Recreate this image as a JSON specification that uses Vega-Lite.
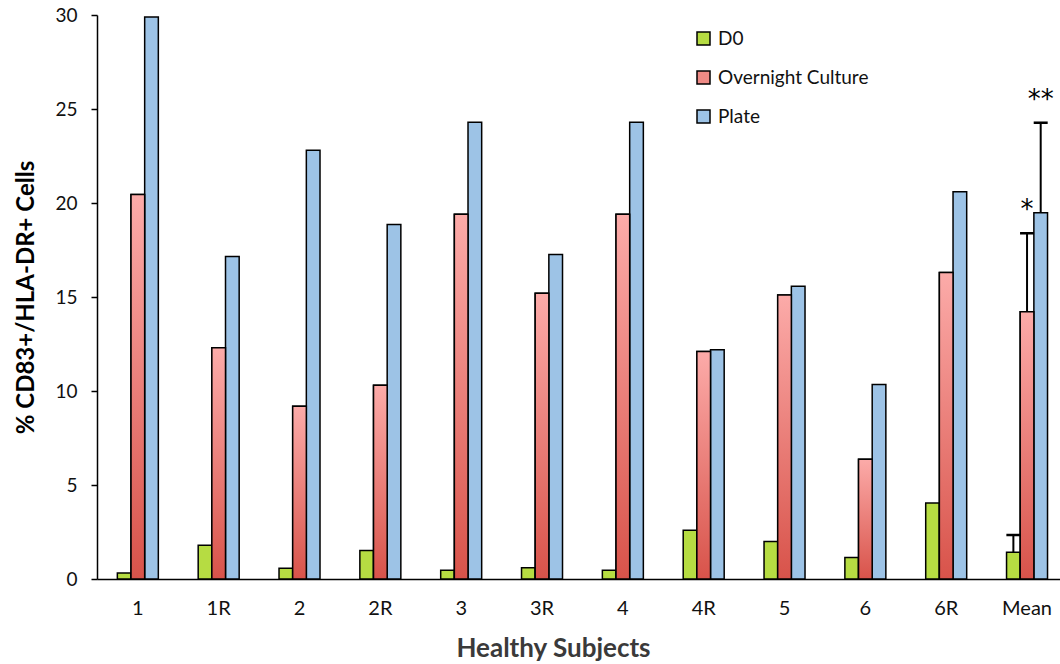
{
  "$schema": "https://vega.github.io/schema/vega-lite/v6.json",
  "width": 963,
  "height": 564,
  "autosize": {"type": "none"},
  "padding": {"left": 97, "top": 15, "right": 0, "bottom": 85},
  "background": "white",
  "config": {
    "font": "Lato",
    "view": {"stroke": null},
    "axis": {"grid": false, "domainColor": "#000000", "domainWidth": 1.5, "tickColor": "#000000", "tickWidth": 1.5, "labelColor": "#111111", "labelFont": "Lato", "titleFont": "Lato"}
  },
  "data": {
    "values": [
      {"subject": "1", "series": "D0", "value": 0.32},
      {"subject": "1", "series": "Overnight Culture", "value": 20.45},
      {"subject": "1", "series": "Plate", "value": 29.9},
      {"subject": "1R", "series": "D0", "value": 1.79},
      {"subject": "1R", "series": "Overnight Culture", "value": 12.3},
      {"subject": "1R", "series": "Plate", "value": 17.15},
      {"subject": "2", "series": "D0", "value": 0.57},
      {"subject": "2", "series": "Overnight Culture", "value": 9.19},
      {"subject": "2", "series": "Plate", "value": 22.8},
      {"subject": "2R", "series": "D0", "value": 1.52},
      {"subject": "2R", "series": "Overnight Culture", "value": 10.3},
      {"subject": "2R", "series": "Plate", "value": 18.86},
      {"subject": "3", "series": "D0", "value": 0.46},
      {"subject": "3", "series": "Overnight Culture", "value": 19.4},
      {"subject": "3", "series": "Plate", "value": 24.3},
      {"subject": "3R", "series": "D0", "value": 0.6},
      {"subject": "3R", "series": "Overnight Culture", "value": 15.2},
      {"subject": "3R", "series": "Plate", "value": 17.26},
      {"subject": "4", "series": "D0", "value": 0.46},
      {"subject": "4", "series": "Overnight Culture", "value": 19.4},
      {"subject": "4", "series": "Plate", "value": 24.3},
      {"subject": "4R", "series": "D0", "value": 2.59},
      {"subject": "4R", "series": "Overnight Culture", "value": 12.1},
      {"subject": "4R", "series": "Plate", "value": 12.2},
      {"subject": "5", "series": "D0", "value": 2.0},
      {"subject": "5", "series": "Overnight Culture", "value": 15.1},
      {"subject": "5", "series": "Plate", "value": 15.57},
      {"subject": "6", "series": "D0", "value": 1.15},
      {"subject": "6", "series": "Overnight Culture", "value": 6.37},
      {"subject": "6", "series": "Plate", "value": 10.35},
      {"subject": "6R", "series": "D0", "value": 4.04},
      {"subject": "6R", "series": "Overnight Culture", "value": 16.3},
      {"subject": "6R", "series": "Plate", "value": 20.6},
      {"subject": "Mean", "series": "D0", "value": 1.42, "upper": 2.34, "sig": ""},
      {"subject": "Mean", "series": "Overnight Culture", "value": 14.22, "upper": 18.39, "sig": "*"},
      {"subject": "Mean", "series": "Plate", "value": 19.48, "upper": 24.27, "sig": "**"}
    ]
  },
  "encoding": {
    "x": {
      "field": "subject", "type": "nominal", "sort": null,
      "scale": {"paddingInner": 0.493, "paddingOuter": 0.203, "align": 0.62},
      "axis": {"title": "Healthy Subjects", "labelAngle": 0, "ticks": false, "labelFontSize": 20, "labelPadding": 19, "titleFontSize": 26, "titleFontWeight": "bold", "titleColor": "#3a3a3a", "titlePadding": 17, "titleX": 456}
    },
    "xOffset": {"field": "series", "type": "nominal", "sort": ["D0", "Overnight Culture", "Plate"], "scale": {"paddingInner": 0, "paddingOuter": 0}},
    "y": {
      "field": "value", "type": "quantitative",
      "scale": {"domain": [0, 30], "nice": false},
      "axis": {"title": "% CD83+/HLA-DR+ Cells", "values": [0, 5, 10, 15, 20, 25, 30], "tickSize": 6, "labelFontSize": 19, "labelPadding": 14, "titleFontSize": 24, "titleFontWeight": "bold", "titleColor": "#000000", "titlePadding": 16}
    }
  },
  "layer": [
    {
      "mark": {"type": "bar", "stroke": "#000000", "strokeWidth": 1.5},
      "encoding": {
        "color": {
          "field": "series", "type": "nominal",
          "scale": {"domain": ["D0", "Overnight Culture", "Plate"], "range": ["#b6dc42", "#ee8a85", "#9dc3e6"]},
          "legend": {"title": null, "orient": "none", "legendX": 597, "legendY": 14, "symbolType": "square", "symbolSize": 169, "symbolStrokeColor": "#000000", "symbolStrokeWidth": 1.5, "symbolOpacity": 1, "labelFontSize": 19, "labelFont": "Lato", "labelColor": "#111111", "labelOffset": 5, "rowPadding": 19}
        }
      }
    },
    {
      "transform": [{"filter": "datum.series === 'Overnight Culture'"}],
      "mark": {
        "type": "bar", "stroke": "#000000", "strokeWidth": 1.5,
        "color": {"gradient": "linear", "x1": 0, "y1": 0, "x2": 0, "y2": 1, "stops": [{"offset": 0, "color": "#fcaba9"}, {"offset": 1, "color": "#d8534a"}]}
      }
    },
    {
      "transform": [{"filter": "isValid(datum.upper)"}],
      "mark": {"type": "rule", "color": "#000000", "strokeWidth": 2},
      "encoding": {"y2": {"field": "upper"}}
    },
    {
      "transform": [{"filter": "isValid(datum.upper)"}],
      "mark": {"type": "tick", "color": "#000000", "thickness": 2.5, "size": 14, "opacity": 1},
      "encoding": {"y": {"field": "upper", "type": "quantitative"}}
    },
    {
      "transform": [{"filter": "isValid(datum.upper)"}],
      "mark": {"type": "text", "fontSize": 26, "baseline": "bottom", "dy": -10, "color": "#000000", "font": "DejaVu Sans"},
      "encoding": {"y": {"field": "upper", "type": "quantitative"}, "text": {"field": "sig"}}
    }
  ]
}
